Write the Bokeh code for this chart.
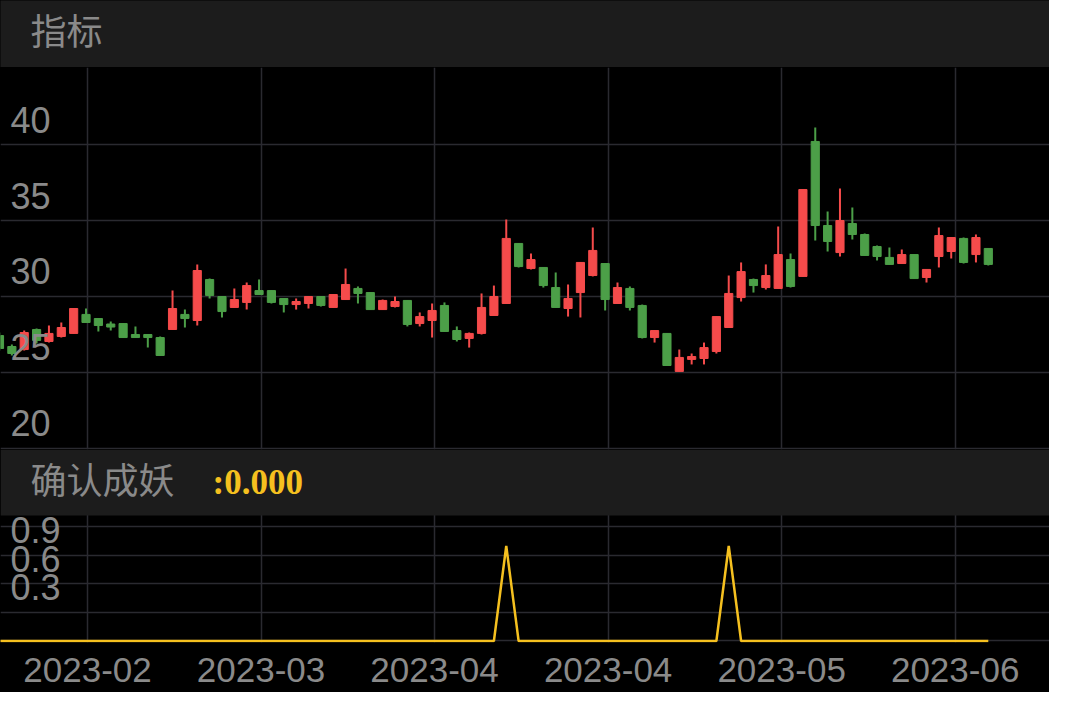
from bokeh.plotting import figure
from bokeh.layouts import column
from bokeh.models import Range1d, FixedTicker, ColumnDataSource, Grid, BoxAnnotation
from bokeh.core.properties import value
from bokeh.embed import file_html
from bokeh.resources import INLINE

# ---------------- data ----------------
open_ = [27.43, 26.71, 26.51, 27.83, 27.04, 27.37, 27.57, 28.82, 28.55, 28.19,
         28.22, 27.50, 27.50, 27.30, 27.83, 28.82, 28.42, 31.12, 30.00, 29.28,
         29.61, 30.39, 30.39, 29.87, 29.47, 29.54, 30.00, 29.28, 29.80, 30.53,
         30.26, 29.14, 29.34, 29.74, 28.22, 28.42, 29.41, 27.76, 27.24, 27.57,
         28.75, 29.54, 33.49, 31.84, 31.91, 30.59, 29.21, 30.26, 31.38, 32.17,
         29.54, 30.53, 29.41, 27.30, 27.57, 25.07, 25.86, 25.92, 26.38, 27.96,
         29.93, 31.12, 30.59, 30.53, 32.43, 31.32, 40.20, 34.67, 32.89, 34.80,
         34.08, 33.29, 32.57, 32.17, 32.76, 31.25, 32.63, 32.96, 33.82, 32.76,
         33.16]
close = [26.58, 26.25, 27.63, 27.11, 27.57, 27.96, 29.21, 28.29, 28.09, 27.99,
         27.30, 27.30, 27.30, 26.12, 29.21, 28.55, 31.71, 30.07, 29.01, 29.80,
         30.72, 30.13, 29.61, 29.47, 29.67, 30.00, 29.41, 30.13, 30.79, 30.20,
         29.14, 29.74, 29.67, 28.16, 28.68, 29.08, 27.70, 27.17, 27.57, 29.28,
         30.00, 33.82, 31.97, 32.43, 30.72, 29.28, 29.87, 32.24, 33.03, 29.80,
         30.59, 29.28, 27.30, 27.76, 25.46, 25.99, 26.05, 26.64, 28.68, 30.20,
         31.64, 30.72, 31.38, 32.76, 30.66, 37.04, 34.67, 33.62, 35.00, 34.08,
         32.70, 32.63, 32.11, 32.76, 31.18, 31.78, 34.01, 33.88, 32.24, 33.88,
         32.11]
high = [27.63, 26.84, 27.76, 27.89, 28.09, 28.29, 29.21, 29.21, 28.55, 28.36,
        28.22, 28.03, 27.50, 27.37, 30.39, 29.14, 32.11, 31.18, 30.00, 30.53,
        30.92, 31.12, 30.39, 29.87, 29.87, 30.00, 30.03, 30.13, 31.84, 30.66,
        30.26, 29.80, 30.00, 29.74, 28.95, 29.54, 29.61, 28.03, 27.63, 30.20,
        30.72, 35.07, 33.49, 32.83, 31.91, 31.58, 30.79, 32.24, 34.54, 32.17,
        30.92, 30.66, 29.47, 27.76, 27.57, 26.51, 26.25, 26.97, 28.68, 31.38,
        32.24, 31.18, 32.11, 34.61, 32.83, 37.04, 41.12, 35.59, 37.11, 35.86,
        34.14, 33.36, 33.22, 33.09, 32.76, 31.78, 34.54, 33.88, 33.88, 34.08,
        33.16]
low = [26.45, 26.12, 26.45, 26.91, 26.97, 27.30, 27.57, 28.29, 27.70, 27.76,
       27.30, 27.30, 26.64, 26.12, 27.83, 27.96, 28.09, 29.87, 28.62, 29.28,
       29.14, 30.13, 29.54, 28.95, 29.14, 29.21, 29.34, 29.28, 29.80, 29.54,
       29.14, 29.14, 29.28, 28.03, 28.03, 27.30, 27.70, 27.04, 26.64, 27.50,
       28.75, 29.54, 31.91, 31.78, 30.59, 29.28, 28.68, 28.62, 31.32, 29.08,
       29.54, 29.08, 27.24, 26.97, 25.46, 25.07, 25.53, 25.53, 26.25, 27.96,
       29.67, 30.26, 30.46, 30.53, 30.59, 31.32, 33.68, 32.96, 32.63, 33.75,
       32.70, 32.37, 32.11, 32.17, 31.18, 30.92, 31.91, 32.50, 32.17, 32.24,
       32.04]
signal = [0, 0, 0, 0, 0, 0, 0, 0, 0, 0,
          0, 0, 0, 0, 0, 0, 0, 0, 0, 0,
          0, 0, 0, 0, 0, 0, 0, 0, 0, 0,
          0, 0, 0, 0, 0, 0, 0, 0, 0, 0,
          0, 1, 0, 0, 0, 0, 0, 0, 0, 0,
          0, 0, 0, 0, 0, 0, 0, 0, 0, 1,
          0, 0, 0, 0, 0, 0, 0, 0, 0, 0,
          0, 0, 0, 0, 0, 0, 0, 0, 0, 0,
          0]

price_ticks = [20, 25, 30, 35, 40]
price_tick_labels = ["20", "25", "30", "35", "40"]
signal_ticks = [0, 0.3, 0.6, 0.9, 1.2]
signal_label_ticks = [0.3, 0.6, 0.9]
signal_tick_labels = ["0.3", "0.6", "0.9"]
date_tick_pos = [7.12, 21.16, 35.2, 49.24, 63.28, 77.32]
date_tick_labels = ["2023-02", "2023-03", "2023-04", "2023-04", "2023-05", "2023-06"]

panel_title = "指标"
indicator_name = "确认成妖"
indicator_value = ":0.000"

# ---------------- styles ----------------
W = 1049
PX_PER_BAR = 12.36
X0 = 0.081
UP = "#F54B4B"
DOWN = "#4C9F48"
GRID = "#2a2a30"
GREY = "#8a8a8a"
BAND = "#1c1c1c"
YELLOW = "#F5C01F"
NUM_FONT = value("Liberation Sans")
CJK_FONT = value("Noto Sans CJK SC")

idx = list(range(len(open_)))
xr = Range1d(X0, X0 + W / PX_PER_BAR)


def bare(height, x_range, y_range, bg, **kw):
    f = figure(width=W, height=height, x_range=x_range, y_range=y_range,
               output_backend="svg", toolbar_location=None,
               x_axis_location=None, y_axis_location=None, min_border=0,
               background_fill_color=bg, border_fill_color=bg,
               outline_line_color=None, **kw)
    f.center = [r for r in f.center if not isinstance(r, Grid)]
    return f


def add_grids(f, yticks):
    f.add_layout(Grid(dimension=0, ticker=FixedTicker(ticks=date_tick_pos),
                      grid_line_color=GRID, grid_line_width=1.5))
    f.add_layout(Grid(dimension=1, ticker=FixedTicker(ticks=yticks),
                      grid_line_color=GRID, grid_line_width=1.5))


# header band
hdr = bare(67, Range1d(0, W), Range1d(0, 67), BAND)
hdr.text(x=[30], y=[38.5], text=[panel_title], text_font=CJK_FONT,
         text_font_size="36px", text_color=GREY, text_baseline="middle")

# candle chart
p = bare(382, xr, Range1d(19.934, 45.066), "black")
add_grids(p, price_ticks)
colors = [UP if c > o else DOWN for o, c in zip(open_, close)]
src = ColumnDataSource(dict(
    idx=idx, open=open_, close=close, high=high, low=low,
    top=[max(o, c) for o, c in zip(open_, close)],
    bottom=[min(o, c) for o, c in zip(open_, close)],
    color=colors))
p.segment(x0="idx", y0="low", x1="idx", y1="high", line_color="color",
          line_width=2, source=src)
p.vbar(x="idx", width=0.66, top="top", bottom="bottom", fill_color="color",
       line_color="color", line_width=1, source=src)
p.text(x=[xr.start] * len(price_ticks), y=price_ticks, text=price_tick_labels,
       x_offset=10, y_offset=-25, text_font=NUM_FONT, text_font_size="36px",
       text_color=GREY, text_baseline="middle", text_align="left")

# indicator band + indicator chart (one figure)
SIG_TOP = 2.0158      # top of the band
BAND_BOTTOM = 1.3211  # where the indicator frame starts
q = figure(width=W, frame_height=193, x_range=xr, y_range=Range1d(-0.016, SIG_TOP),
           output_backend="svg", toolbar_location=None, y_axis_location=None,
           min_border=0, min_border_bottom=50,
           background_fill_color="black", border_fill_color="black",
           outline_line_color=None)
q.center = [r for r in q.center if not isinstance(r, Grid)]
add_grids(q, signal_ticks)
q.add_layout(BoxAnnotation(bottom=BAND_BOTTOM, fill_color=BAND, fill_alpha=1,
                           line_color=None, level="underlay"))
q.line(x=idx, y=signal, line_color=YELLOW, line_width=2.5)
q.text(x=[xr.start] * len(signal_label_ticks), y=signal_label_ticks, text=signal_tick_labels,
       x_offset=10, y_offset=-25, text_font=NUM_FONT, text_font_size="36px",
       text_color=GREY, text_baseline="middle", text_align="left")
q.text(x=[xr.start], y=[SIG_TOP], text=[indicator_name], x_offset=30, y_offset=28,
       text_font=CJK_FONT, text_font_size="36px", text_color=GREY, text_baseline="middle")
q.text(x=[xr.start], y=[SIG_TOP], text=[indicator_value], x_offset=212, y_offset=33,
       text_font=value("Liberation Serif"), text_font_size="35px",
       text_font_style="bold", text_color=YELLOW, text_baseline="middle")
ax = q.xaxis[0]
ax.ticker = FixedTicker(ticks=date_tick_pos)
ax.major_label_overrides = {t: l for t, l in zip(date_tick_pos, date_tick_labels)}
ax.axis_line_color = None
ax.major_tick_line_color = None
ax.minor_tick_line_color = None
ax.major_tick_in = 0
ax.major_tick_out = 0
ax.minor_tick_in = 0
ax.minor_tick_out = 0
ax.major_label_standoff = 15
ax.major_label_text_font = "Liberation Sans"
ax.major_label_text_font_size = "35px"
ax.major_label_text_color = GREY

layout = column(hdr, p, q, spacing=0, styles={"background-color": "#000000"})
open("out.html", "w").write(file_html(layout, INLINE))
